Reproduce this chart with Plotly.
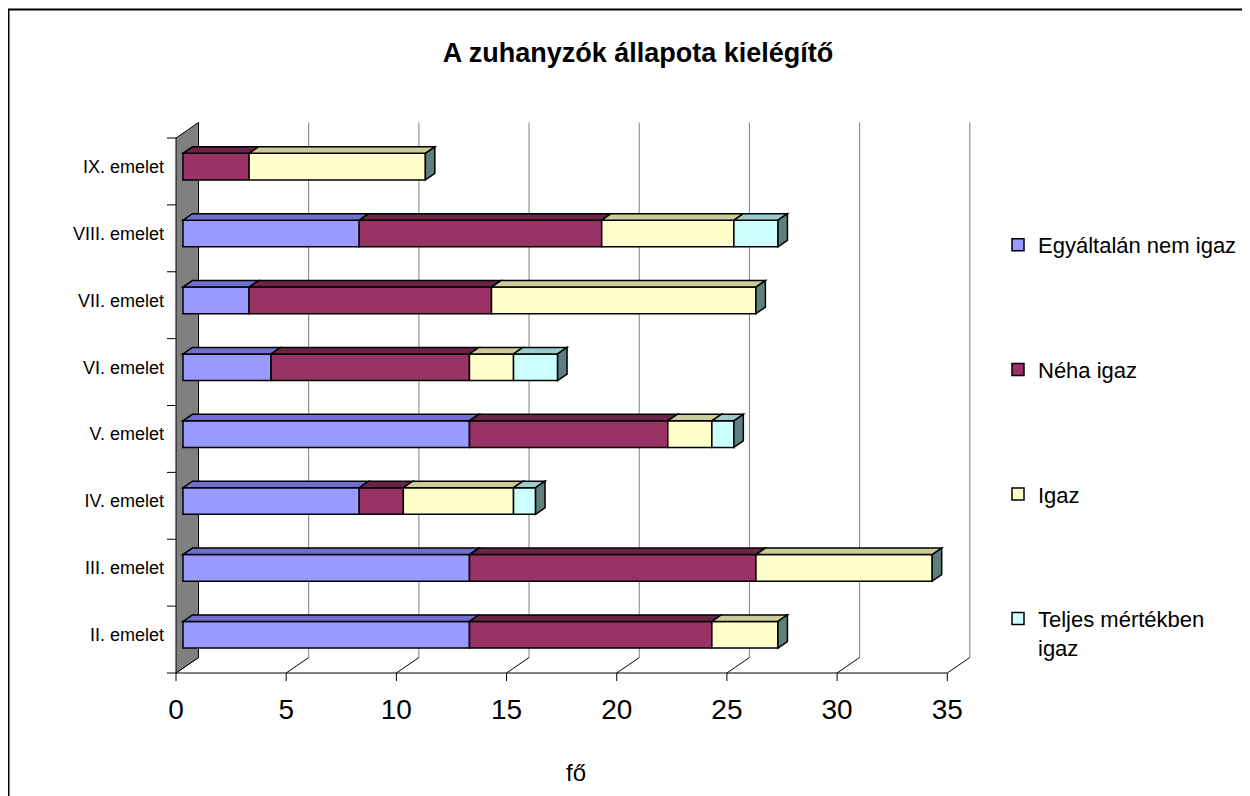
import plotly.graph_objects as go

# ---------------- data ----------------
categories = ["II. emelet", "III. emelet", "IV. emelet", "V. emelet",
              "VI. emelet", "VII. emelet", "VIII. emelet", "IX. emelet"]
series_names = ["Egyáltalán nem igaz", "Néha igaz", "Igaz", "Teljes mértékben<br>igaz"]
egyaltalan_nem_igaz = [13, 13, 8, 13, 4, 3, 8, 0]
neha_igaz = [11, 13, 2, 9, 9, 11, 11, 3]
igaz = [3, 8, 5, 2, 2, 12, 6, 8]
teljes_mertekben_igaz = [0, 0, 1, 1, 2, 0, 2, 0]
x_ticks = [0, 5, 10, 15, 20, 25, 30, 35]
title_text = "A zuhanyzók állapota kielégítő"
x_title = "fő"

series = [egyaltalan_nem_igaz, neha_igaz, igaz, teljes_mertekben_igaz]
front_colors = ["#9999FF", "#993366", "#FFFFCC", "#CCFFFF"]
top_colors = ["#7070CC", "#6B2447", "#CCCC99", "#99CCCC"]
side_color = "#5F7F7F"

FONT = "Liberation Sans, Arial, sans-serif"

# ---------------- geometry (3D look) ----------------
OFF = 8              # page offset of the figure (body margin)
W, H = 1250, 796
L, R, T, B = 165 - OFF, 263 + OFF, 115 - OFF, 106 + OFF
KX = 22.037          # px per value unit
KY = 66.875          # px per category
x0_px = 176 - OFF    # figure pixel of value 0 on the front plane
cat_bottom_px = 673 - OFF
xmin = (L - x0_px) / KX
xmax = xmin + (W - L - R) / KX
ymin = -0.5 - ((H - B) - cat_bottom_px) / KY
ymax = ymin + (H - T - B) / KY

DDX = 22.5 / KX      # full depth in x
DDY = 15.5 / KY      # full depth in y
F1, F2 = 0.31, 0.73
FX, FY = F1 * DDX, F1 * DDY
TDX, TDY = (F2 - F1) * DDX, (F2 - F1) * DDY
BW = 0.398

n = len(categories)
ncat_top = n - 0.5
xmax_val = x_ticks[-1]

shapes = []

def poly(pts, fill, layer="above", lw=1.5, lc="black"):
    d = "M " + " L ".join(f"{x},{y}" for x, y in pts) + " Z"
    shapes.append(dict(type="path", path=d, xref="x", yref="y",
                       fillcolor=fill, line=dict(color=lc, width=lw), layer=layer))

def seg(x0, y0, x1, y1, color="black", width=1, layer="below"):
    shapes.append(dict(type="line", x0=x0, y0=y0, x1=x1, y1=y1, xref="x", yref="y",
                       line=dict(color=color, width=width), layer=layer))

# back-wall gridlines
for v in x_ticks[1:]:
    seg(v + DDX, -0.5 + DDY, v + DDX, ncat_top + DDY, color="#808080", width=1)
# floor diagonals and front ticks
for v in x_ticks:
    seg(v, -0.5, v + DDX, -0.5 + DDY, color="black", width=1)
    seg(v, -0.5, v, -0.5 - 8 / KY, color="black", width=1)
# front axis line
seg(0, -0.5, xmax_val, -0.5, color="black", width=1)
# wall
poly([(0, -0.5), (DDX, -0.5 + DDY), (DDX, ncat_top + DDY), (0, ncat_top)],
     "#808080", layer="below", lw=1)
# category ticks
for k in range(n + 1):
    seg(-9 / KX, -0.5 + k, 0, -0.5 + k, color="black", width=1)

# ---------------- bars ----------------
fig = go.Figure()
cum = [0.0] * n
for s, (name, vals) in enumerate(zip(series_names, series)):
    fig.add_trace(go.Bar(
        orientation="h",
        y=[i + FY for i in range(n)],
        x=[v if v > 0 else None for v in vals],
        base=[cum[i] + FX for i in range(n)],
        width=BW,
        name=name,
        legendgroup=name,
        marker=dict(color=front_colors[s], line=dict(color="black", width=1.5)),
        hoverinfo="skip",
    ))
    for i, v in enumerate(vals):
        if v > 0:
            xa = cum[i] + FX
            xb = cum[i] + v + FX
            yt = i + FY + BW / 2
            poly([(xa, yt), (xb, yt), (xb + TDX, yt + TDY), (xa + TDX, yt + TDY)],
                 top_colors[s])
    cum = [cum[i] + vals[i] for i in range(n)]

# side faces at the end of each stack
for i in range(n):
    xe = cum[i] + FX
    yb = i + FY - BW / 2
    yt = i + FY + BW / 2
    poly([(xe, yb), (xe, yt), (xe + TDX, yt + TDY), (xe + TDX, yb + TDY)], side_color)

# outer chart border (top/left visible)
pw, ph = W - L - R, H - T - B
shapes.append(dict(type="rect", xref="paper", yref="paper",
                   x0=(8.5 - OFF - L) / pw, x1=(W + 20 - L) / pw,
                   y0=-(B + 20) / ph, y1=((H - B) - (9.5 - OFF)) / ph,
                   line=dict(color="black", width=2), fillcolor="rgba(0,0,0,0)",
                   layer="below"))

fig.update_layout(
    width=W, height=H,
    margin=dict(l=L, r=R, t=T, b=B),
    paper_bgcolor="white", plot_bgcolor="white",
    barmode="overlay",
    font=dict(family=FONT, color="black"),
    title=dict(text=f"<b>{title_text}</b>", font=dict(size=27, family=FONT),
               x=(638 - OFF) / W, xanchor="center", y=1 - (53 - OFF) / H, yanchor="middle"),
    xaxis=dict(range=[xmin, xmax], tickvals=x_ticks, ticks="", showgrid=False,
               zeroline=False, showline=False, tickfont=dict(size=28),
               title=dict(text=x_title, font=dict(size=24), standoff=40)),
    yaxis=dict(range=[ymin, ymax], tickvals=[i + FY for i in range(n)],
               ticktext=categories, ticks="", showgrid=False, zeroline=False,
               showline=False, tickfont=dict(size=18)),
    legend=dict(x=(998 - OFF - L) / pw, y=((H - B) - (224 - OFF)) / ph,
                xanchor="left", yanchor="top",
                font=dict(size=22), traceorder="grouped", tracegroupgap=93,
                valign="top", bgcolor="rgba(0,0,0,0)"),
    shapes=shapes,
    showlegend=True,
)

fig.write_html("out.html")
